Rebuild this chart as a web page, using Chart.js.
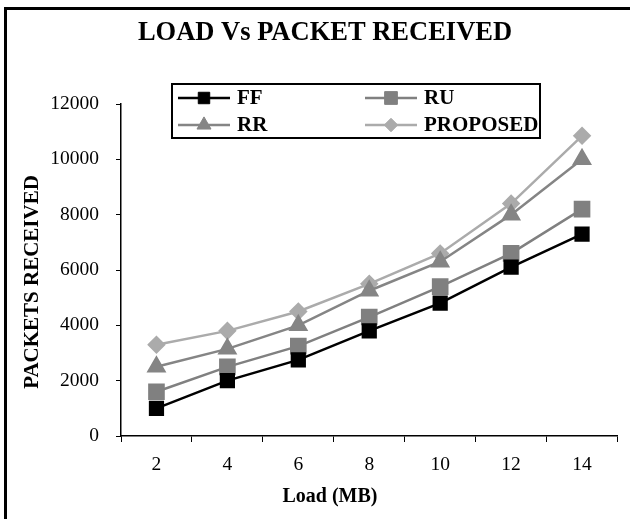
<!DOCTYPE html>
<html>
<head>
<meta charset="utf-8">
<script src="https://cdn.jsdelivr.net/npm/chart.js@4.4.1/dist/chart.umd.min.js"></script>
<style>
  html, body { margin: 0; padding: 0; background: #fff; }
  #wrap { width: 630px; height: 519px; }
</style>
</head>
<body>
<div id="wrap"><canvas id="chart" width="630" height="519"></canvas></div>
<script>
// values
const loads = ['2', '4', '6', '8', '10', '12', '14'];
const ffValues = [1000, 2000, 2750, 3800, 4800, 6100, 7300];
const ruValues = [1600, 2500, 3250, 4300, 5400, 6600, 8200];
const rrValues = [2500, 3150, 4000, 5250, 6300, 8000, 10000];
const proposedValues = [3300, 3800, 4500, 5500, 6600, 8400, 10850];
const yTicks = [0, 2000, 4000, 6000, 8000, 10000, 12000];

const SERIF = '"Liberation Serif", "Times New Roman", serif';

// frame, title, axis titles and the 2x2 legend box
const decorations = {
    id: 'decorations',
    beforeDraw(chart) {
        const ctx = chart.ctx;
        ctx.save();
        ctx.fillStyle = '#fff';
        ctx.fillRect(0, 0, chart.width, chart.height);
        ctx.strokeStyle = '#000';
        ctx.lineWidth = 3;
        ctx.beginPath();
        ctx.moveTo(5.5, chart.height);
        ctx.lineTo(5.5, 8.5);
        ctx.lineTo(chart.width, 8.5);
        ctx.stroke();
        ctx.restore();
    },
    afterDraw(chart) {
        const ctx = chart.ctx;
        ctx.save();
        ctx.fillStyle = '#000';
        ctx.textAlign = 'center';
        ctx.textBaseline = 'middle';

        ctx.font = 'bold 26.5px ' + SERIF;
        ctx.fillText('LOAD Vs PACKET RECEIVED', 325, 33);

        ctx.font = 'bold 20px ' + SERIF;
        ctx.fillText('Load (MB)', 330, 497);

        ctx.font = 'bold 21px ' + SERIF;
        ctx.save();
        ctx.translate(33, 282);
        ctx.rotate(-Math.PI / 2);
        ctx.fillText('PACKETS RECEIVED', 0, 0);
        ctx.restore();

        // legend
        ctx.lineWidth = 2;
        ctx.strokeStyle = '#000';
        ctx.strokeRect(172, 84, 368, 54);

        const slots = [
            { x: 178, y: 98 }, { x: 365, y: 98 },
            { x: 178, y: 125 }, { x: 365, y: 125 }
        ];
        ctx.textAlign = 'left';
        ctx.font = 'bold 21px ' + SERIF;
        chart.data.datasets.forEach((ds, i) => {
            const s = slots[i];
            const len = 52;
            ctx.strokeStyle = ds.borderColor;
            ctx.lineWidth = ds.borderWidth;
            ctx.beginPath();
            ctx.moveTo(s.x, s.y);
            ctx.lineTo(s.x + len, s.y);
            ctx.stroke();
            ctx.fillStyle = ds.pointBackgroundColor;
            ctx.strokeStyle = ds.pointBorderColor;
            ctx.lineWidth = 1;
            Chart.helpers.drawPoint(ctx, {
                pointStyle: ds.pointStyle,
                radius: ds.pointRadius * 0.9,
                borderWidth: 1,
                rotation: 0
            }, s.x + len / 2, s.y);
            ctx.fillStyle = '#000';
            ctx.fillText(ds.label, s.x + len + 7, s.y + 1);
        });
        ctx.restore();
    }
};

function series(label, data, color, style, radius) {
    return {
        label,
        data,
        borderColor: color,
        backgroundColor: color,
        pointBackgroundColor: color,
        pointBorderColor: color,
        borderWidth: 2.5,
        pointStyle: style,
        pointRadius: radius,
        pointHoverRadius: radius,
        tension: 0
    };
}

const ctx = document.getElementById('chart').getContext('2d');
new Chart(ctx, {
    type: 'line',
    data: {
        labels: loads,
        datasets: [
            series('FF', ffValues, '#000000', 'rect', 9),
            series('RU', ruValues, '#808080', 'rect', 10),
            series('RR', rrValues, '#858585', 'triangle', 9),
            series('PROPOSED', proposedValues, '#ababab', 'rectRot', 7.5)
        ]
    },
    options: {
        responsive: false,
        animation: false,
        layout: { padding: { top: 104, right: 7, bottom: 0, left: 0 } },
        plugins: {
            legend: { display: false },
            title: { display: false },
            tooltip: { enabled: false }
        },
        scales: {
            x: {
                type: 'category',
                offset: true,
                grid: {
                    offset: true,
                    drawOnChartArea: false,
                    tickLength: 6,
                    tickColor: '#000',
                    tickWidth: 1
                },
                border: { color: '#000', width: 1.5 },
                ticks: {
                    color: '#000',
                    padding: 11,
                    maxRotation: 0,
                    font: { family: SERIF, size: 19.5 }
                },
                afterFit(scale) { scale.height = 83; }
            },
            y: {
                min: 0,
                max: 12000,
                afterBuildTicks(scale) {
                    scale.ticks = yTicks.map(v => ({ value: v }));
                },
                grid: {
                    drawOnChartArea: false,
                    tickLength: 5,
                    tickColor: '#000',
                    tickWidth: 1
                },
                border: { color: '#000', width: 1.5 },
                ticks: {
                    color: '#000',
                    padding: 17,
                    font: { family: SERIF, size: 19.5 },
                    callback: v => String(v)
                },
                afterFit(scale) { scale.width = 121; }
            }
        }
    },
    plugins: [decorations]
});
</script>
</body>
</html>
